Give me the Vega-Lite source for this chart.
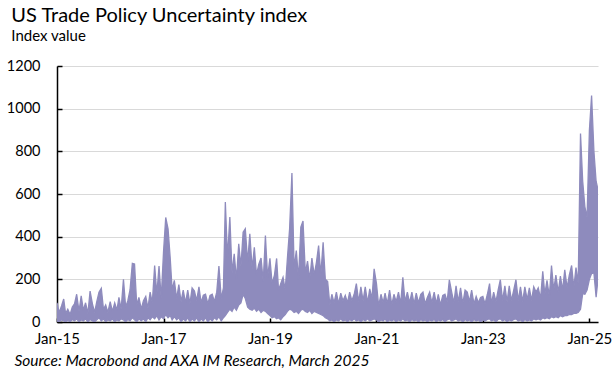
{
"$schema": "https://vega.github.io/schema/vega-lite/v6.json",
"width": 541, "height": 256,
"autosize": "none",
"padding": {"left": 57, "top": 66, "right": 17, "bottom": 57},
"background": "white",
"config": {"view": {"stroke": null}, "font": "Lato"},
"title": {"text": "US Trade Policy Uncertainty index", "subtitle": "Index value", "anchor": "start", "frame": "bounds", "font": "Lato", "fontSize": 20, "fontWeight": "normal", "color": "#000", "subtitleFont": "Lato", "subtitleFontSize": 15, "subtitleColor": "#000", "subtitlePadding": 3, "offset": 14, "dx": 5},
"data": {"values": [
{"d":"2015-01-01","hi":90,"lo":5},{"d":"2015-01-16","hi":45,"lo":0},{"d":"2015-02-01","hi":75,"lo":10},{"d":"2015-02-16","hi":108,"lo":5},{"d":"2015-03-01","hi":40,"lo":0},{"d":"2015-03-16","hi":60,"lo":8},{"d":"2015-04-01","hi":35,"lo":0},{"d":"2015-04-16","hi":70,"lo":12},{"d":"2015-05-01","hi":85,"lo":5},{"d":"2015-05-16","hi":130,"lo":15},{"d":"2015-06-01","hi":50,"lo":0},{"d":"2015-06-16","hi":123,"lo":10},{"d":"2015-07-01","hi":55,"lo":5},{"d":"2015-07-16","hi":90,"lo":15},{"d":"2015-08-01","hi":40,"lo":0},{"d":"2015-08-16","hi":145,"lo":12},{"d":"2015-09-01","hi":85,"lo":5},{"d":"2015-09-16","hi":45,"lo":0},{"d":"2015-10-01","hi":95,"lo":10},{"d":"2015-10-16","hi":140,"lo":20},{"d":"2015-11-01","hi":158,"lo":5},{"d":"2015-11-16","hi":60,"lo":15},{"d":"2015-12-01","hi":80,"lo":0},{"d":"2015-12-16","hi":45,"lo":10},
{"d":"2016-01-01","hi":95,"lo":5},{"d":"2016-01-16","hi":50,"lo":15},{"d":"2016-02-01","hi":90,"lo":0},{"d":"2016-02-16","hi":55,"lo":10},{"d":"2016-03-01","hi":115,"lo":5},{"d":"2016-03-16","hi":60,"lo":15},{"d":"2016-04-01","hi":200,"lo":10},{"d":"2016-04-16","hi":70,"lo":0},{"d":"2016-05-01","hi":100,"lo":12},{"d":"2016-05-16","hi":150,"lo":5},{"d":"2016-06-01","hi":275,"lo":20},{"d":"2016-06-16","hi":272,"lo":10},{"d":"2016-07-01","hi":80,"lo":0},{"d":"2016-07-16","hi":115,"lo":15},{"d":"2016-08-01","hi":60,"lo":5},{"d":"2016-08-16","hi":100,"lo":15},{"d":"2016-09-01","hi":120,"lo":0},{"d":"2016-09-16","hi":65,"lo":20},{"d":"2016-10-01","hi":140,"lo":10},{"d":"2016-10-16","hi":90,"lo":25},{"d":"2016-11-01","hi":265,"lo":15},{"d":"2016-11-16","hi":130,"lo":30},{"d":"2016-12-01","hi":262,"lo":10},{"d":"2016-12-16","hi":110,"lo":25},
{"d":"2017-01-01","hi":330,"lo":15},{"d":"2017-01-16","hi":490,"lo":35},{"d":"2017-02-01","hi":437,"lo":20},{"d":"2017-02-16","hi":298,"lo":30},{"d":"2017-03-01","hi":150,"lo":10},{"d":"2017-03-16","hi":195,"lo":25},{"d":"2017-04-01","hi":110,"lo":10},{"d":"2017-04-16","hi":175,"lo":20},{"d":"2017-05-01","hi":95,"lo":0},{"d":"2017-05-16","hi":150,"lo":15},{"d":"2017-06-01","hi":90,"lo":5},{"d":"2017-06-16","hi":150,"lo":20},{"d":"2017-07-01","hi":85,"lo":0},{"d":"2017-07-16","hi":160,"lo":15},{"d":"2017-08-01","hi":145,"lo":5},{"d":"2017-08-16","hi":100,"lo":20},{"d":"2017-09-01","hi":165,"lo":0},{"d":"2017-09-16","hi":90,"lo":15},{"d":"2017-10-01","hi":125,"lo":5},{"d":"2017-10-16","hi":130,"lo":20},{"d":"2017-11-01","hi":85,"lo":0},{"d":"2017-11-16","hi":125,"lo":15},{"d":"2017-12-01","hi":130,"lo":5},{"d":"2017-12-16","hi":95,"lo":20},
{"d":"2018-01-01","hi":140,"lo":10},{"d":"2018-01-16","hi":262,"lo":25},{"d":"2018-02-01","hi":110,"lo":5},{"d":"2018-02-16","hi":160,"lo":20},{"d":"2018-03-01","hi":562,"lo":30},{"d":"2018-03-16","hi":300,"lo":45},{"d":"2018-04-01","hi":492,"lo":60},{"d":"2018-04-16","hi":230,"lo":50},{"d":"2018-05-01","hi":320,"lo":70},{"d":"2018-05-16","hi":200,"lo":55},{"d":"2018-06-01","hi":367,"lo":80},{"d":"2018-06-16","hi":260,"lo":90},{"d":"2018-07-01","hi":421,"lo":130},{"d":"2018-07-16","hi":437,"lo":110},{"d":"2018-08-01","hi":280,"lo":70},{"d":"2018-08-16","hi":413,"lo":60},{"d":"2018-09-01","hi":250,"lo":55},{"d":"2018-09-16","hi":350,"lo":65},{"d":"2018-10-01","hi":220,"lo":50},{"d":"2018-10-16","hi":270,"lo":60},{"d":"2018-11-01","hi":300,"lo":45},{"d":"2018-11-16","hi":190,"lo":55},{"d":"2018-12-01","hi":405,"lo":50},{"d":"2018-12-16","hi":210,"lo":40},
{"d":"2019-01-01","hi":298,"lo":30},{"d":"2019-01-16","hi":180,"lo":20},{"d":"2019-02-01","hi":220,"lo":25},{"d":"2019-02-16","hi":298,"lo":15},{"d":"2019-03-01","hi":150,"lo":20},{"d":"2019-03-16","hi":180,"lo":10},{"d":"2019-04-01","hi":210,"lo":25},{"d":"2019-04-16","hi":150,"lo":35},{"d":"2019-05-01","hi":300,"lo":50},{"d":"2019-05-16","hi":437,"lo":60},{"d":"2019-06-01","hi":698,"lo":55},{"d":"2019-06-16","hi":250,"lo":45},{"d":"2019-07-01","hi":335,"lo":50},{"d":"2019-07-16","hi":200,"lo":40},{"d":"2019-08-01","hi":445,"lo":55},{"d":"2019-08-16","hi":473,"lo":60},{"d":"2019-09-01","hi":230,"lo":50},{"d":"2019-09-16","hi":285,"lo":45},{"d":"2019-10-01","hi":200,"lo":55},{"d":"2019-10-16","hi":300,"lo":40},{"d":"2019-11-01","hi":220,"lo":50},{"d":"2019-11-16","hi":280,"lo":45},{"d":"2019-12-01","hi":358,"lo":40},{"d":"2019-12-16","hi":220,"lo":35},
{"d":"2020-01-01","hi":374,"lo":30},{"d":"2020-01-16","hi":200,"lo":20},{"d":"2020-02-01","hi":190,"lo":15},{"d":"2020-02-16","hi":80,"lo":5},{"d":"2020-03-01","hi":130,"lo":10},{"d":"2020-03-16","hi":90,"lo":0},{"d":"2020-04-01","hi":140,"lo":10},{"d":"2020-04-16","hi":85,"lo":5},{"d":"2020-05-01","hi":135,"lo":15},{"d":"2020-05-16","hi":100,"lo":5},{"d":"2020-06-01","hi":125,"lo":10},{"d":"2020-06-16","hi":90,"lo":0},{"d":"2020-07-01","hi":140,"lo":12},{"d":"2020-07-16","hi":100,"lo":5},{"d":"2020-08-01","hi":130,"lo":15},{"d":"2020-08-16","hi":180,"lo":5},{"d":"2020-09-01","hi":95,"lo":10},{"d":"2020-09-16","hi":165,"lo":0},{"d":"2020-10-01","hi":100,"lo":12},{"d":"2020-10-16","hi":165,"lo":5},{"d":"2020-11-01","hi":90,"lo":15},{"d":"2020-11-16","hi":155,"lo":5},{"d":"2020-12-01","hi":110,"lo":10},{"d":"2020-12-16","hi":249,"lo":15},
{"d":"2021-01-01","hi":180,"lo":10},{"d":"2021-01-16","hi":75,"lo":0},{"d":"2021-02-01","hi":130,"lo":10},{"d":"2021-02-16","hi":90,"lo":5},{"d":"2021-03-01","hi":135,"lo":15},{"d":"2021-03-16","hi":85,"lo":0},{"d":"2021-04-01","hi":150,"lo":10},{"d":"2021-04-16","hi":80,"lo":5},{"d":"2021-05-01","hi":130,"lo":12},{"d":"2021-05-16","hi":95,"lo":0},{"d":"2021-06-01","hi":140,"lo":10},{"d":"2021-06-16","hi":85,"lo":5},{"d":"2021-07-01","hi":210,"lo":15},{"d":"2021-07-16","hi":95,"lo":5},{"d":"2021-08-01","hi":140,"lo":10},{"d":"2021-08-16","hi":90,"lo":0},{"d":"2021-09-01","hi":140,"lo":12},{"d":"2021-09-16","hi":85,"lo":5},{"d":"2021-10-01","hi":135,"lo":10},{"d":"2021-10-16","hi":90,"lo":0},{"d":"2021-11-01","hi":130,"lo":12},{"d":"2021-11-16","hi":140,"lo":5},{"d":"2021-12-01","hi":85,"lo":10},{"d":"2021-12-16","hi":115,"lo":0},
{"d":"2022-01-01","hi":140,"lo":10},{"d":"2022-01-16","hi":90,"lo":5},{"d":"2022-02-01","hi":140,"lo":12},{"d":"2022-02-16","hi":85,"lo":0},{"d":"2022-03-01","hi":130,"lo":10},{"d":"2022-03-16","hi":80,"lo":5},{"d":"2022-04-01","hi":125,"lo":12},{"d":"2022-04-16","hi":130,"lo":0},{"d":"2022-05-01","hi":95,"lo":10},{"d":"2022-05-16","hi":198,"lo":15},{"d":"2022-06-01","hi":140,"lo":5},{"d":"2022-06-16","hi":90,"lo":10},{"d":"2022-07-01","hi":170,"lo":15},{"d":"2022-07-16","hi":95,"lo":5},{"d":"2022-08-01","hi":160,"lo":10},{"d":"2022-08-16","hi":85,"lo":0},{"d":"2022-09-01","hi":150,"lo":12},{"d":"2022-09-16","hi":140,"lo":5},{"d":"2022-10-01","hi":95,"lo":10},{"d":"2022-10-16","hi":150,"lo":0},{"d":"2022-11-01","hi":85,"lo":12},{"d":"2022-11-16","hi":120,"lo":5},{"d":"2022-12-01","hi":90,"lo":10},{"d":"2022-12-16","hi":115,"lo":0},
{"d":"2023-01-01","hi":120,"lo":10},{"d":"2023-01-16","hi":85,"lo":5},{"d":"2023-02-01","hi":130,"lo":12},{"d":"2023-02-16","hi":180,"lo":15},{"d":"2023-03-01","hi":85,"lo":5},{"d":"2023-03-16","hi":140,"lo":10},{"d":"2023-04-01","hi":95,"lo":0},{"d":"2023-04-16","hi":150,"lo":12},{"d":"2023-05-01","hi":198,"lo":15},{"d":"2023-05-16","hi":100,"lo":5},{"d":"2023-06-01","hi":170,"lo":12},{"d":"2023-06-16","hi":95,"lo":0},{"d":"2023-07-01","hi":170,"lo":10},{"d":"2023-07-16","hi":100,"lo":5},{"d":"2023-08-01","hi":150,"lo":12},{"d":"2023-08-16","hi":198,"lo":15},{"d":"2023-09-01","hi":100,"lo":5},{"d":"2023-09-16","hi":165,"lo":10},{"d":"2023-10-01","hi":95,"lo":0},{"d":"2023-10-16","hi":165,"lo":12},{"d":"2023-11-01","hi":105,"lo":5},{"d":"2023-11-16","hi":160,"lo":10},{"d":"2023-12-01","hi":100,"lo":5},{"d":"2023-12-16","hi":165,"lo":15},
{"d":"2024-01-01","hi":140,"lo":10},{"d":"2024-01-16","hi":160,"lo":15},{"d":"2024-02-01","hi":110,"lo":10},{"d":"2024-02-16","hi":238,"lo":20},{"d":"2024-03-01","hi":130,"lo":15},{"d":"2024-03-16","hi":195,"lo":20},{"d":"2024-04-01","hi":120,"lo":15},{"d":"2024-04-16","hi":265,"lo":25},{"d":"2024-05-01","hi":150,"lo":20},{"d":"2024-05-16","hi":220,"lo":25},{"d":"2024-06-01","hi":140,"lo":20},{"d":"2024-06-16","hi":215,"lo":30},{"d":"2024-07-01","hi":150,"lo":25},{"d":"2024-07-16","hi":245,"lo":30},{"d":"2024-08-01","hi":160,"lo":30},{"d":"2024-08-16","hi":220,"lo":35},{"d":"2024-09-01","hi":265,"lo":35},{"d":"2024-09-16","hi":160,"lo":40},{"d":"2024-10-01","hi":255,"lo":40},{"d":"2024-10-16","hi":180,"lo":45},{"d":"2024-11-01","hi":883,"lo":60},{"d":"2024-11-16","hi":660,"lo":133},{"d":"2024-12-01","hi":540,"lo":130},{"d":"2024-12-16","hi":490,"lo":150},
{"d":"2025-01-01","hi":900,"lo":200},{"d":"2025-01-16","hi":1062,"lo":227},{"d":"2025-02-01","hi":800,"lo":230},{"d":"2025-02-16","hi":660,"lo":116},{"d":"2025-03-01","hi":620,"lo":200}
]},
"mark": {"type": "area", "color": "#8e8bbd", "stroke": "#8e8bbd", "strokeWidth": 1.3, "clip": true},
"encoding": {
  "x": {"field": "d", "type": "temporal",
    "scale": {"type": "utc", "domain": [{"year": 2015, "month": 1, "date": 1, "utc": true}, {"year": 2025, "month": 3, "date": 1, "utc": true}]},
    "axis": {"values": [{"year": 2015, "month": 1, "date": 1, "utc": true}, {"year": 2017, "month": 1, "date": 1, "utc": true}, {"year": 2019, "month": 1, "date": 1, "utc": true}, {"year": 2021, "month": 1, "date": 1, "utc": true}, {"year": 2023, "month": 1, "date": 1, "utc": true}, {"year": 2025, "month": 1, "date": 1, "utc": true}],
      "format": "%b-%y", "grid": false, "domainColor": "#000", "domainWidth": 1.5, "tickColor": "#000", "tickSize": -4, "tickWidth": 1.5,
      "labelFont": "Lato", "labelFontSize": 15, "labelColor": "#000", "labelPadding": 13, "labelFlush": false,
      "title": "Source: Macrobond and AXA IM Research, March 2025", "titleFont": "Lato", "titleFontStyle": "italic", "titleFontWeight": "normal", "titleFontSize": 15.5, "titleColor": "#000", "titleAnchor": "start", "titleAlign": "left", "titleBaseline": "alphabetic", "titleX": -43, "titleY": 43}},
  "y": {"field": "hi", "type": "quantitative", "scale": {"domain": [0, 1200]},
    "axis": {"values": [0, 200, 400, 600, 800, 1000, 1200], "format": "d", "grid": true, "gridColor": "#d9d9d9", "gridWidth": 1, "domainColor": "#000", "domainWidth": 1.5, "tickColor": "#000", "tickSize": -5, "tickWidth": 1.5,
      "labelFont": "Lato", "labelFontSize": 14.5, "labelColor": "#000", "labelPadding": 22, "title": null}},
  "y2": {"field": "lo"}
}
}
